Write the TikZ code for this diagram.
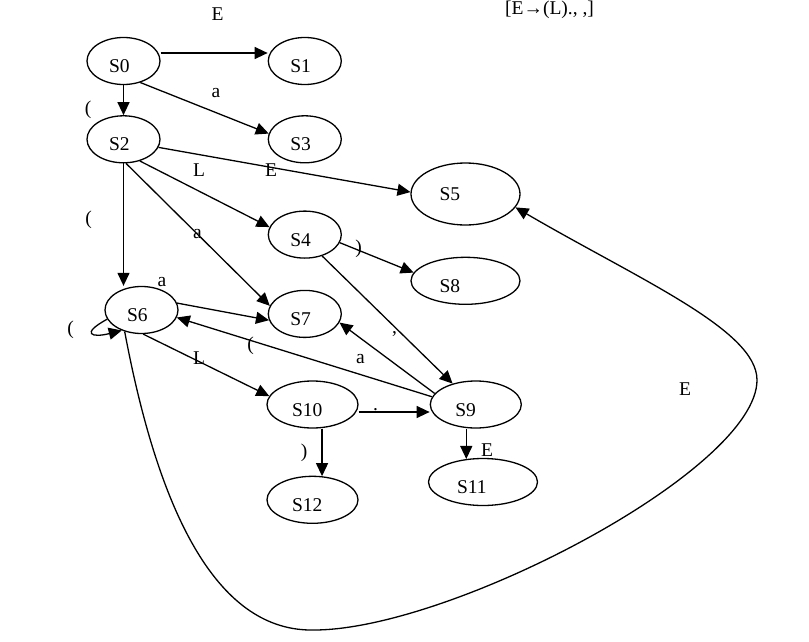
\documentclass[tikz,border=0pt]{standalone}
\usepackage{fontspec}
\setmainfont{Liberation Serif}
\usetikzlibrary{arrows.meta,positioning,shapes.geometric}

\begin{document}
\begin{tikzpicture}[x=1pt,y=-1pt,
    font=\fontsize{19.5}{22}\selectfont,
    state/.style={draw,ellipse,line width=1.3pt,minimum width=73pt,minimum height=47pt,
      inner sep=2pt,text width=29pt,align=left,text height=23pt,text depth=0pt},
    midstate/.style={state,minimum width=91pt,text width=41pt},
    widestate/.style={state,minimum width=109pt,text width=52pt},
    lbl/.style={inner sep=0pt},
    a/.style={-{Triangle[length=13pt,width=12pt]},line width=1.3pt}]
    \useasboundingbox (0,0) rectangle (809,642);
    % states
    \node[state] (S0) at (123.5,61) {S0};
    \node[state,right=107pt of S0] (S1) {S1};
    \node[state,below=30pt of S0] (S2) {S2};
    \node[state,right=107pt of S2] (S3) {S3};
    \node[state,below=47pt of S3] (S4) {S4};
    \node[state,below=31pt of S4] (S7) {S7};
    \node[state] (S6) at (141.5,310) {S6};
    \node[widestate,minimum height=62pt,text height=13pt] (S5) at (465.5,194) {S5};
    \node[widestate,below=31pt of S5] (S8) {S8};
    \node[midstate] (S10) at (312.5,404.5) {S10};
    \node[midstate,right=71pt of S10] (S9) {S9};
    \node[midstate,below=47pt of S10] (S12) {S12};
    \node[widestate] (S11) at (483,482) {S11};
    % labels
    \node[lbl] (rule) at (549.5,9.5) {[E→(L)., ,]};
    \node[lbl] (l01) at (217.5,14.5) {E};
    \node[lbl] (l02) at (88,110) {(};
    \node[lbl] (l03) at (216,93) {a};
    \node[lbl] (l24) at (199,170) {L};
    \node[lbl] (l25) at (271,170.5) {E};
    \node[lbl] (l26) at (88.5,220) {(};
    \node[lbl] (l27) at (197.5,234.5) {a};
    \node[lbl] (l48) at (358.5,248.5) {)};
    \node[lbl] (l49) at (394.5,334) {,};
    \node[lbl] (l67) at (162,282) {a};
    \node[lbl] (l66) at (70.5,329.5) {(};
    \node[lbl] (l610) at (199,358.5) {L};
    \node[lbl] (l96) at (250.5,345.5) {(};
    \node[lbl] (l97) at (360.5,359.5) {a};
    \node[lbl] (l109) at (375.5,410) {.};
    \node[lbl] (l1012) at (304,453) {)};
    \node[lbl] (l911) at (487,450.5) {E};
    \node[lbl] (l65) at (685,389.5) {E};
    % transitions
    \draw[a] ([yshift=8pt]S0.east) -- ([yshift=8pt]S1.west);
    \draw[a] (S0) -- (S2);
    \draw[a] (S0.-52) -- (S3.171);
    \draw[a] (S2.-13) -- (S5.178);
    \draw[a] (S2.-53) -- (S4.168);
    \draw[a] (S2.-84) -- (S7.167);
    \draw[a] (S2.south) -- (S2.south |- S6.north);
    \draw[a] (S4.-13) -- (S8.171);
    \draw[a] (S4.-51) -- (S9.138);
    \draw[a] (S6.11) -- (S7.190);
    \draw[a] (S9.170) -- (S6.-12);
    \draw[a] (S9.165) -- (S7.-14);
    \draw[a] (S6.-86) -- (S10.169);
    \draw[a] ([yshift=-7.5pt]S10.east) -- ([yshift=-7.5pt]S9.west);
    \draw[a] (S12.68 |- S10.south) -- (S12.68);
    \draw[a] (S11.126 |- S9.south) -- (S11.126);
    \draw[a] (S6.195) .. controls (80,334) and (92,338) .. (S6.226);
    \draw[a] (S6.232) .. controls (160,520) and (220,632) .. (314,630)
      .. controls (450,630) and (757,470) .. (757,380)
      .. controls (757,330) and (640,280) .. (S5.-15);
\end{tikzpicture}
\end{document}
